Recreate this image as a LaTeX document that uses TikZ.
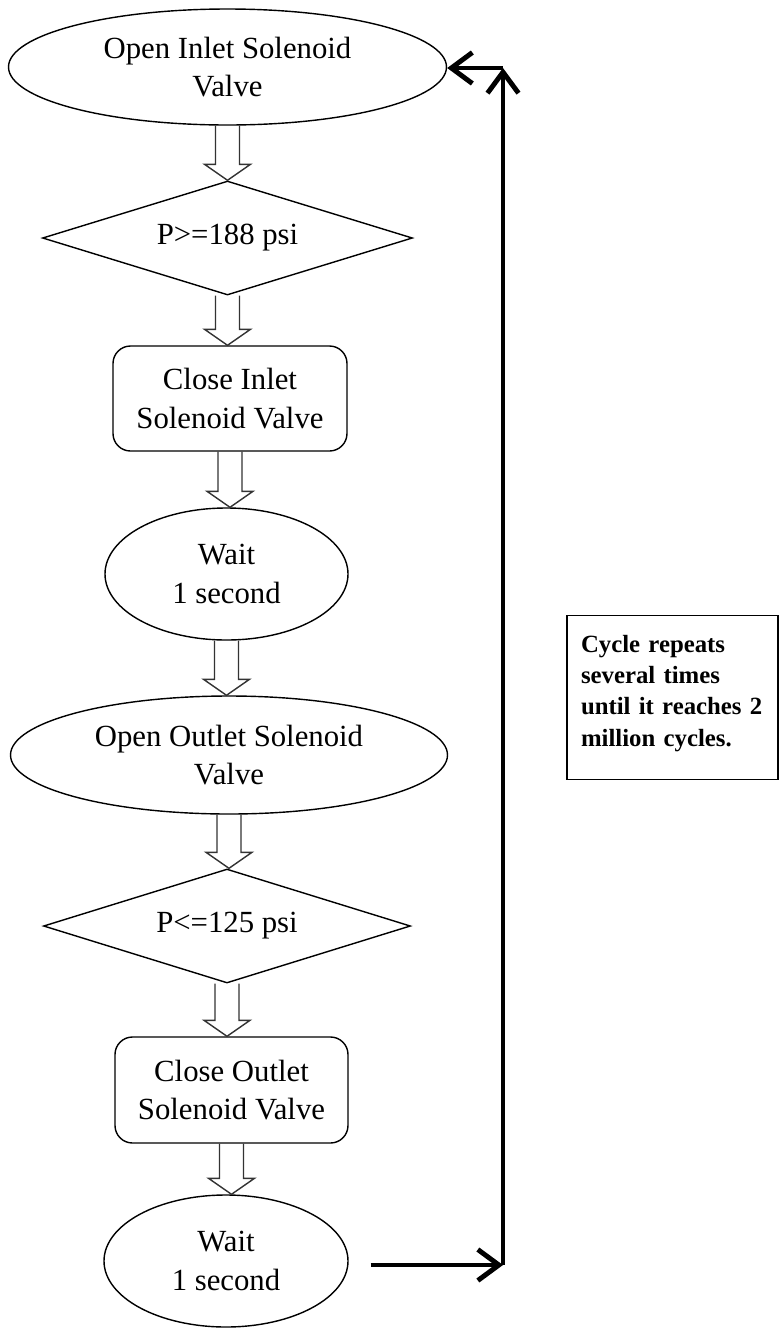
\documentclass[tikz,border=0pt]{standalone}
\usepackage{fontspec}
\setmainfont{Liberation Serif}
\usetikzlibrary{shapes.geometric,arrows.meta,calc}

\begin{document}
\begin{tikzpicture}[
		every node/.style={draw,line width=0.8pt,align=center,inner sep=0pt,
			font=\fontsize{17.5}{22}\selectfont},
		oval/.style={ellipse},
		decision/.style={diamond,aspect=3.25},
		process/.style={rounded corners=0.35cm},
		hollow/.style={draw=black!80,line width=0.8pt},
		loopline/.style={line width=2.8pt,-{Straight Barb[length=0.42cm,width=0.62cm]}}]
		\useasboundingbox (0,0) rectangle (15.58,-26.6);

		\node[oval, minimum width=8.76cm, minimum height=2.32cm] (open1) at (4.55,-1.34) {Open Inlet Solenoid\\Valve};
		\node[decision, minimum width=7.4cm, minimum height=2.28cm] (check1) at (4.55,-4.76) {P>=188 psi};
		\node[process, minimum width=4.68cm, minimum height=2.1cm] (close1) at (4.6,-7.97) {Close Inlet\\Solenoid Valve};
		\node[oval, minimum width=4.86cm, minimum height=2.64cm] (wait1) at (4.53,-11.48) {Wait\\1 second};
		\node[oval, minimum width=8.74cm, minimum height=2.36cm] (open2) at (4.58,-15.1) {Open Outlet Solenoid\\Valve};
		\node[decision, minimum width=7.34cm, minimum height=2.28cm] (check2) at (4.54,-18.52) {P<=125 psi};
		\node[process, minimum width=4.66cm, minimum height=2.12cm] (close2) at (4.63,-21.8) {Close Outlet\\Solenoid Valve};
		\node[oval, minimum width=4.88cm, minimum height=2.64cm] (wait2) at (4.52,-25.22) {Wait\\1 second};

		\node[anchor=north, text width=3.66cm, inner xsep=0.28cm, inner ysep=0.1cm, align=left,
			font=\fontsize{14.1}{17.8}\selectfont\bfseries] (note) at (13.45,-12.3)
			{\rule{0pt}{0.63cm}Cycle repeats\\several times\\until it reaches 2\\million cycles.\rule[-0.57cm]{0pt}{0.57cm}};

		% hollow block arrows between the steps
		\foreach \a/\b in {open1/check1, check1/close1, close1/wait1, wait1/open2,
				open2/check2, check2/close2, close2/wait2}
			\draw[hollow] let \p1=(\a.south), \p2=(\b.north) in
				(\x1-0.24cm,\y1) -- (\x1-0.24cm,\y2+0.32cm) -- (\x1-0.46cm,\y2+0.32cm) -- (\x1,\y2)
				-- (\x1+0.46cm,\y2+0.32cm) -- (\x1+0.24cm,\y2+0.32cm) -- (\x1+0.24cm,\y1);

		\coordinate (loopbot) at (10.06,-25.3);
		\coordinate (looptop) at (10.06,-1.36);
		\draw[loopline] ([xshift=0.44cm]wait2.east |- loopbot) -- (loopbot);
		\draw[loopline] (loopbot) -- (looptop);
		\draw[loopline] (looptop) -- (open1.east |- looptop);
\end{tikzpicture}
\end{document}
